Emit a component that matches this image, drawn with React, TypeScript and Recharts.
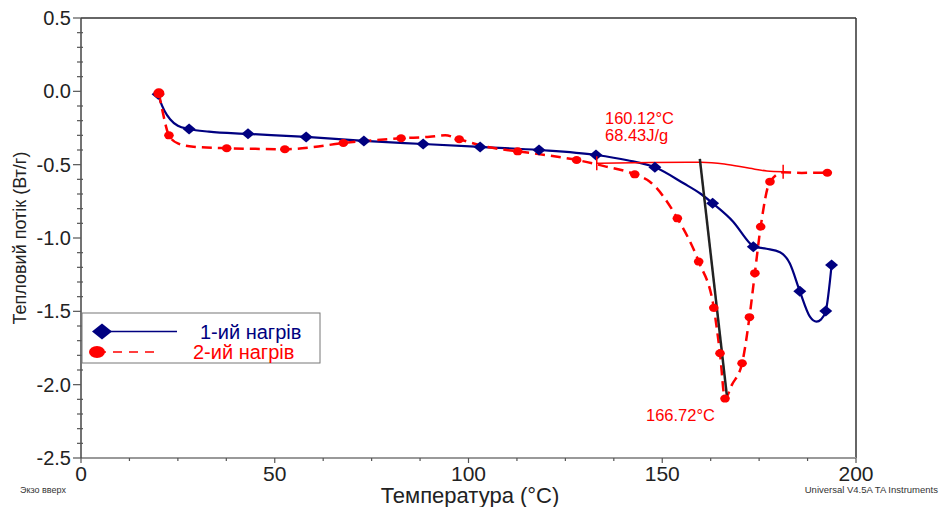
import React from "react";
import {ComposedChart, Line, XAxis, YAxis, ReferenceLine} from "recharts";

const FONT = "'Liberation Sans', Arial, sans-serif";

const xTicks = [0, 12.5, 25, 37.5, 50, 62.5, 75, 87.5, 100, 112.5, 125, 137.5, 150, 162.5, 175, 187.5, 200];
const yTicks = [0.5, 0.4, 0.3, 0.2, 0.1, 0, -0.1, -0.2, -0.3, -0.4, -0.5, -0.6, -0.7, -0.8, -0.9, -1.0,
    -1.1, -1.2, -1.3, -1.4, -1.5, -1.6, -1.7, -1.8, -1.9, -2.0, -2.1, -2.2, -2.3, -2.4, -2.5];

// 1-ий нагрів (first heating)
const heat1Temp = [19.9, 20.5, 21.5, 23, 25, 27.9, 33, 43.1, 58.1, 73, 88.3, 103, 118.2, 132.9, 141, 148.1,
    155.5, 160, 163, 168.3, 172.6, 173.5, 176.9, 180.4, 182.9, 185.5, 188.1, 189.8, 191, 192.2, 193.7];
const heat1Flow = [-0.02, -0.07, -0.13, -0.19, -0.235, -0.257, -0.275, -0.29, -0.311, -0.338, -0.359, -0.379,
    -0.40, -0.434, -0.47, -0.518, -0.627, -0.7, -0.763, -0.889, -1.036, -1.059, -1.073, -1.097, -1.172, -1.363,
    -1.536, -1.57, -1.555, -1.497, -1.184];
const heat1Marked = [0, 5, 7, 8, 9, 10, 11, 12, 13, 15, 18, 21, 25, 29, 30];

// 2-ий нагрів (second heating)
const heat2Temp = [20.1, 21, 22.7, 25, 29, 37.6, 45, 52.6, 60, 67.7, 75, 82.6, 90, 94, 97.6, 105, 112.7, 120,
    127.9, 135, 142.9, 146.8, 153.9, 159.4, 163.3, 164.9, 166.2, 168, 170.6, 172.5, 173.9, 175.4, 177.8, 181.2,
    186, 192.6];
const heat2Flow = [-0.013, -0.13, -0.30, -0.355, -0.378, -0.388, -0.392, -0.395, -0.38, -0.352, -0.335, -0.32,
    -0.31, -0.30, -0.327, -0.38, -0.409, -0.435, -0.468, -0.51, -0.566, -0.616, -0.866, -1.161, -1.476, -1.786,
    -2.095, -2.0, -1.854, -1.54, -1.24, -0.923, -0.616, -0.552, -0.556, -0.555];
const heat2Marked = [0, 2, 5, 7, 9, 11, 14, 16, 18, 20, 22, 23, 24, 25, 26, 28, 29, 30, 31, 32, 35];

// peak integration baseline and onset tangent
const baseTemp = [133.1, 147, 160, 166, 172.6, 177, 181.2];
const baseFlow = [-0.49, -0.486, -0.484, -0.495, -0.525, -0.543, -0.548];
const tangentTemp = [159.7, 166.8];
const tangentFlow = [-0.461, -2.104];

const onsetLabel = "160.12°C";
const enthalpyLabel = "68.43J/g";
const peakLabel = "166.72°C";

const toRows = (t: number[], q: number[]) => t.map((x, i) => ({t: x, q: q[i]}));

const heat1Data = toRows(heat1Temp, heat1Flow);
const heat2Data = toRows(heat2Temp, heat2Flow);
const baseData = toRows(baseTemp, baseFlow);
const tangentData = toRows(tangentTemp, tangentFlow);

const NAVY = "#000080";
const RED = "#ff0000";

const isMajor = (v: number, step: number) => Math.abs(v / step - Math.round(v / step)) < 1e-6;

const YTick = (props: any) => {
    const {x, y, payload} = props;
    const v = payload.value;
    const major = isMajor(v, 0.5);
    return (
        <g>
            <line x1={x - (major ? 8 : 4)} x2={x + (major ? 0 : 2)} y1={y} y2={y} stroke="#555" strokeWidth={1.2}/>
            {major && (
                <text x={x - 10} y={y} dy={7} textAnchor="end" fontFamily={FONT} fontSize={20} fill="#222">
                    {v.toFixed(1)}
                </text>
            )}
        </g>
    );
};

const XTick = (props: any) => {
    const {x, y, payload} = props;
    const v = payload.value;
    const major = isMajor(v, 50);
    return (
        <g>
            <line x1={x} x2={x} y1={y} y2={y + (major ? 5 : 3)} stroke="#555" strokeWidth={1.2}/>
            {major && (
                <text x={x} y={y} dy={23} textAnchor="middle" fontFamily={FONT} fontSize={21} fill="#222">
                    {v}
                </text>
            )}
        </g>
    );
};

const diamond = (cx: number, cy: number, rx: number, ry: number, key: string) => (
    <polygon key={key} points={`${cx},${cy - ry} ${cx + rx},${cy} ${cx},${cy + ry} ${cx - rx},${cy}`} fill={NAVY}/>
);

const Heat1Dot = (props: any) => {
    const {cx, cy, index} = props;
    if (!heat1Marked.includes(index)) return <g key={`h1-${index}`}/>;
    return diamond(cx, cy, 6.5, 5.5, `h1-${index}`);
};

const Heat2Dot = (props: any) => {
    const {cx, cy, index} = props;
    if (!heat2Marked.includes(index)) return <g key={`h2-${index}`}/>;
    const big = index === 0;
    return <ellipse key={`h2-${index}`} cx={cx} cy={cy} rx={big ? 5.5 : 4.8} ry={big ? 5 : 4} fill={RED}/>;
};

const BaseDot = (props: any) => {
    const {cx, cy, index} = props;
    if (index !== 0 && index !== baseTemp.length - 1) return <g key={`b-${index}`}/>;
    return <line key={`b-${index}`} x1={cx} x2={cx} y1={cy - 7} y2={cy + 7} stroke={RED} strokeWidth={1.5}/>;
};

export default function App() {
    return (
        <div style={{position: "absolute", left: 0, top: 0, width: 940, height: 507, background: "#fff"}}>
            <ComposedChart width={940} height={507} margin={{top: 18, right: 84, left: 21, bottom: 19}}>
                <XAxis type="number" dataKey="t" domain={[0, 200]} ticks={xTicks} interval={0}
                       allowDataOverflow height={30} tickSize={0} tickMargin={0} tick={<XTick/>}
                       axisLine={{stroke: "#999", strokeWidth: 2}} tickLine={false}/>
                <YAxis type="number" dataKey="q" domain={[-2.5, 0.5]} ticks={yTicks} interval={0}
                       allowDataOverflow width={60} tickSize={0} tickMargin={0} tick={<YTick/>}
                       axisLine={{stroke: "#444", strokeWidth: 1.5}} tickLine={false}/>
                <ReferenceLine y={0.5} stroke="#333" strokeWidth={1.5}/>
                <ReferenceLine x={200} stroke="#333" strokeWidth={1.5}/>
                <Line data={heat1Data} dataKey="q" type="monotone" stroke={NAVY} strokeWidth={2.2}
                      dot={Heat1Dot} activeDot={false} isAnimationActive={false}/>
                <Line data={heat2Data} dataKey="q" type="monotone" stroke={RED} strokeWidth={2.5}
                      strokeDasharray="10 6" dot={Heat2Dot} activeDot={false} isAnimationActive={false}/>
                <Line data={baseData} dataKey="q" type="monotone" stroke={RED} strokeWidth={1.5}
                      dot={BaseDot} activeDot={false} isAnimationActive={false}/>
                <Line data={tangentData} dataKey="q" type="linear" stroke="#222" strokeWidth={2.5}
                      dot={false} activeDot={false} isAnimationActive={false}/>
            </ComposedChart>
            <svg width={940} height={507} style={{position: "absolute", left: 0, top: 0, pointerEvents: "none"}}
                 fontFamily={FONT}>
                <text x={605} y={124} fontSize={16.5} fill={RED}>{onsetLabel}</text>
                <text x={605} y={141} fontSize={16.5} fill={RED}>{enthalpyLabel}</text>
                <text x={646} y={421} fontSize={16.5} fill={RED}>{peakLabel}</text>

                <rect x={82} y={313} width={238} height={50} fill="#fff" stroke="#777" strokeWidth={1}/>
                <line x1={102} x2={177} y1={331.5} y2={331.5} stroke={NAVY} strokeWidth={1.5}/>
                {diamond(102, 331.5, 10, 8, "lg1")}
                <text x={200} y={339} fontSize={20} fill={NAVY}>1-ий нагрів</text>
                <line x1={97} x2={158} y1={352} y2={352} stroke={RED} strokeWidth={1.5} strokeDasharray="9 7"/>
                <ellipse cx={97} cy={352} rx={8} ry={6} fill={RED}/>
                <text x={193} y={359} fontSize={20} fill={RED}>2-ий нагрів</text>

                <text x={470} y={503} textAnchor="middle" fontSize={22} fill="#222">Температура (°C)</text>
                <text x={0} y={0} transform="translate(26,238) rotate(-90)" textAnchor="middle"
                      fontSize={18} fill="#222">Тепловий потік (Вт/г)</text>
                <text x={20} y={493} fontSize={9} fill="#333">Экзо вверх</text>
                <text x={938} y={493} textAnchor="end" fontSize={9.5} fill="#333">Universal V4.5A TA Instruments</text>
            </svg>
        </div>
    );
}
